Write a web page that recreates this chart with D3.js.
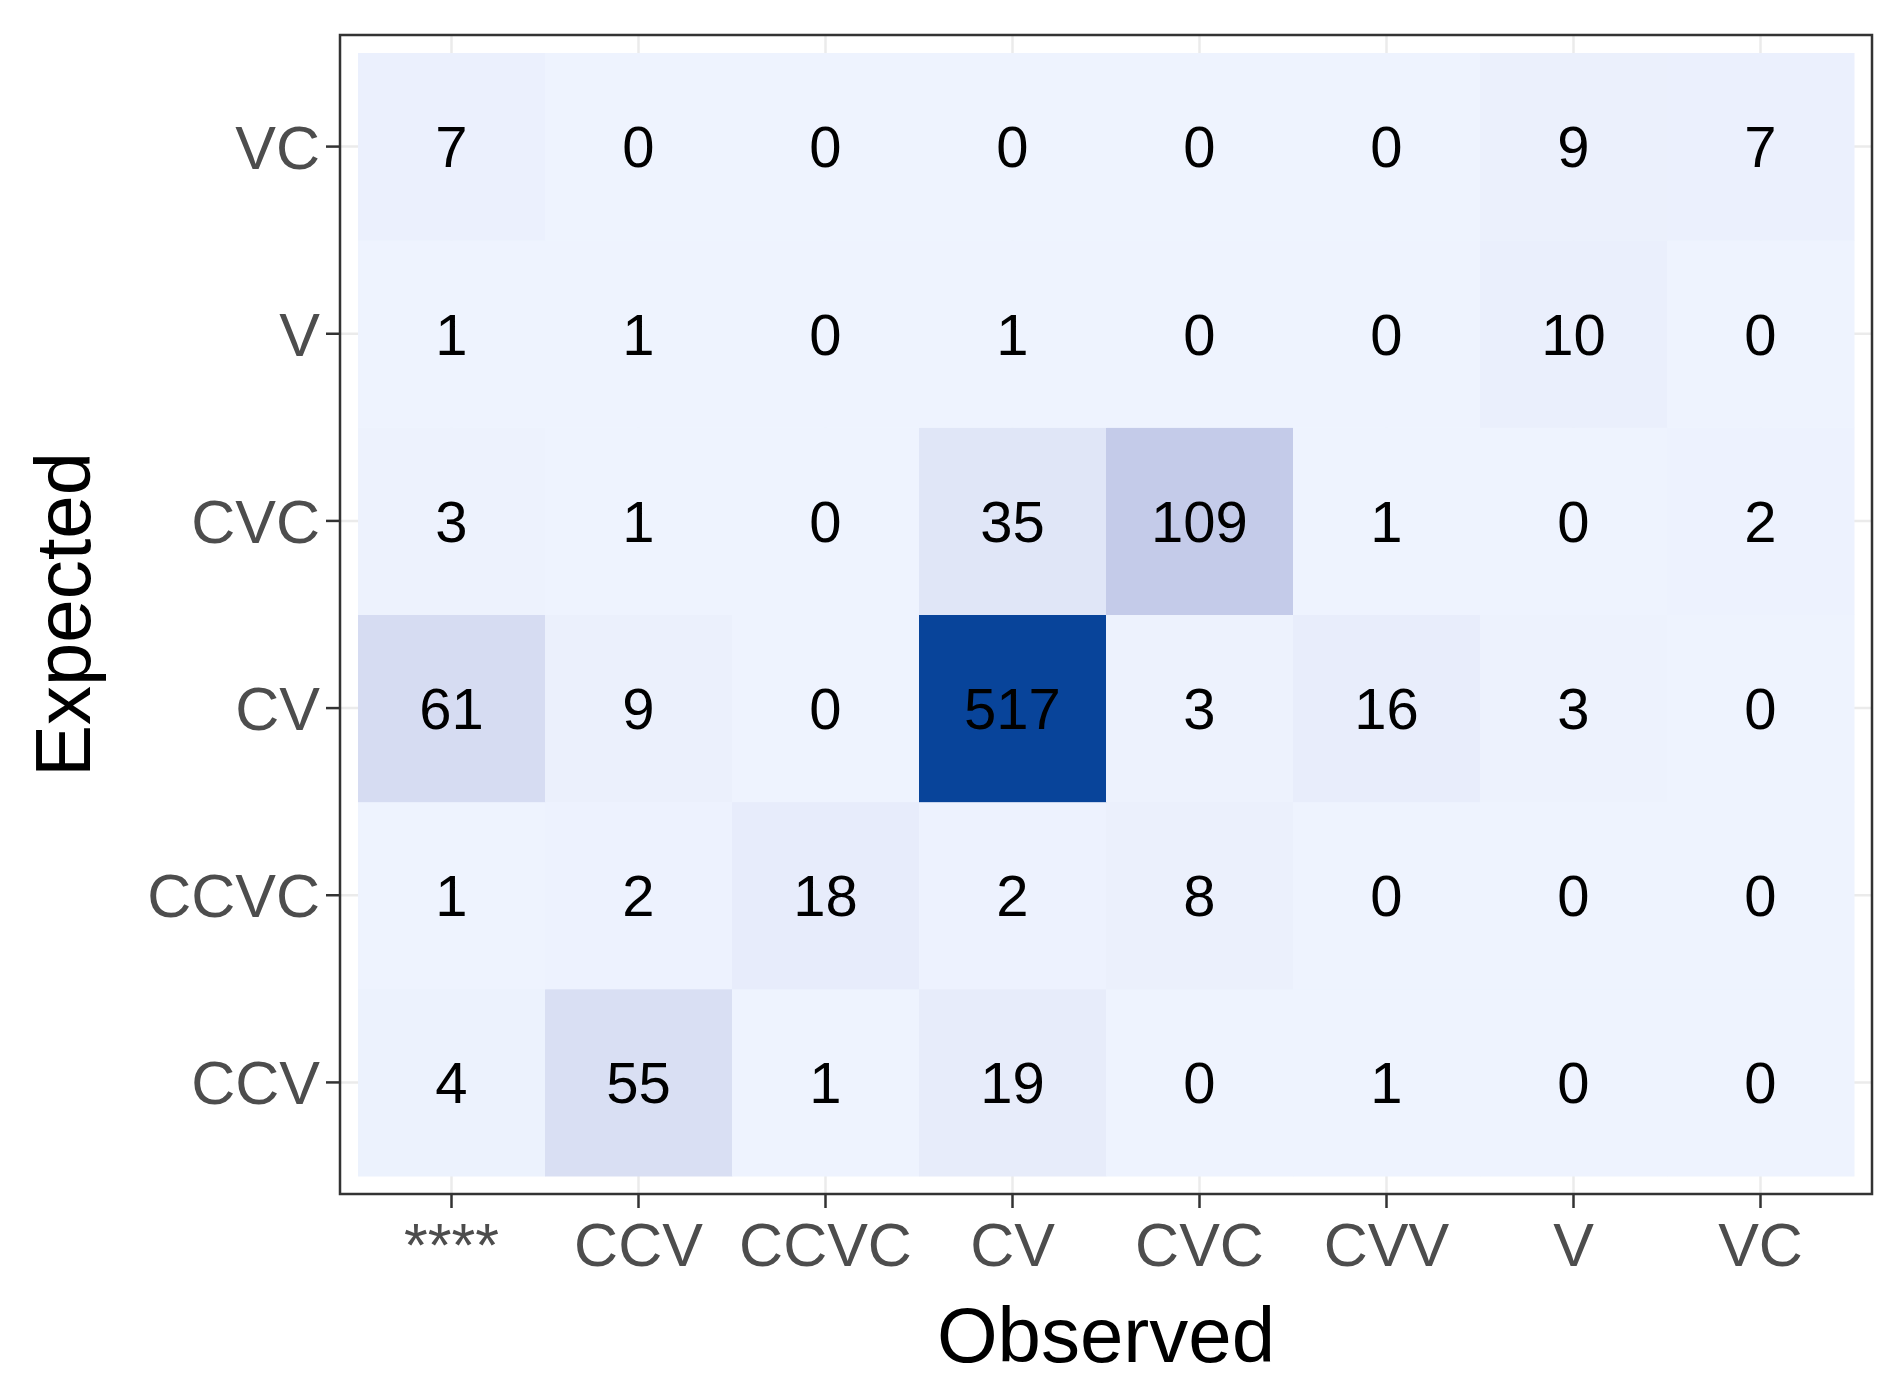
<!DOCTYPE html><html><head><script src="https://cdn.jsdelivr.net/npm/d3@7"></script>
<style>body{margin:0;background:#fff}</style></head><body><svg id="c" width="1895" height="1396"></svg>
<script>
const observed=["****","CCV","CCVC","CV","CVC","CVV","V","VC"];
const expected=["CCV","CCVC","CV","CVC","V","VC"];
const counts={
 "VC":  [7,0,0,0,0,0,9,7],
 "V":   [1,1,0,1,0,0,10,0],
 "CVC": [3,1,0,35,109,1,0,2],
 "CV":  [61,9,0,517,3,16,3,0],
 "CCVC":[1,2,18,2,8,0,0,0],
 "CCV": [4,55,1,19,0,1,0,0]
};
const svg=d3.select("#c");
const L=340,R=1872,T=35,B=1194,pad=18;
const x=d3.scaleBand().domain(observed).range([L+pad,R-pad]);
const y=d3.scaleBand().domain(expected.slice().reverse()).range([T+pad,B-pad]);
const col=d3.scaleLinear().domain([0,517]).range(["#eef3fe","#08449a"]).interpolate(d3.interpolateLab);
const g=svg.append("g");
g.append("rect").attr("x",L).attr("y",T).attr("width",R-L).attr("height",B-T).attr("fill","#fff");
observed.forEach(o=>g.append("line").attr("x1",x(o)+x.bandwidth()/2).attr("x2",x(o)+x.bandwidth()/2).attr("y1",T).attr("y2",B).attr("stroke","#ebebeb").attr("stroke-width",2.5));
expected.forEach(e=>g.append("line").attr("y1",y(e)+y.bandwidth()/2).attr("y2",y(e)+y.bandwidth()/2).attr("x1",L).attr("x2",R).attr("stroke","#ebebeb").attr("stroke-width",2.5));
const data=[];expected.forEach(e=>observed.forEach((o,i)=>data.push({e,o,v:counts[e][i]})));
g.selectAll("rect.t").data(data).join("rect").attr("x",d=>x(d.o)).attr("y",d=>y(d.e)).attr("width",x.bandwidth()+0.5).attr("height",y.bandwidth()+0.5).attr("fill",d=>col(d.v));
g.selectAll("text.v").data(data).join("text").attr("x",d=>x(d.o)+x.bandwidth()/2).attr("y",d=>y(d.e)+y.bandwidth()/2).attr("dy","0.36em").attr("text-anchor","middle").attr("font-family","Liberation Sans, Arial").attr("font-size",58).attr("fill","#000").text(d=>d.v);
g.append("rect").attr("x",L).attr("y",T).attr("width",R-L).attr("height",B-T).attr("fill","none").attr("stroke","#333").attr("stroke-width",2.5);
const xa=svg.append("g").attr("transform",`translate(0,${B})`).call(d3.axisBottom(x).tickSize(14).tickPadding(6));
const ya=svg.append("g").attr("transform",`translate(${L},0)`).call(d3.axisLeft(y).tickSize(14).tickPadding(6));
[xa,ya].forEach(a=>{a.select(".domain").remove();a.selectAll("line").attr("stroke","#333").attr("stroke-width",2.5);a.selectAll("text").attr("font-family","Liberation Sans, Arial").attr("font-size",61).attr("fill","#4d4d4d");});
xa.selectAll("text").attr("dy","0.85em");
ya.selectAll("text").attr("dy","0.36em");
svg.append("text").attr("x",(L+R)/2).attr("y",1362).attr("text-anchor","middle").attr("font-family","Liberation Sans, Arial").attr("font-size",78).text("Observed");
svg.append("text").attr("transform",`translate(90,${(T+B)/2}) rotate(-90)`).attr("text-anchor","middle").attr("font-family","Liberation Sans, Arial").attr("font-size",78).text("Expected");
</script></body></html>
